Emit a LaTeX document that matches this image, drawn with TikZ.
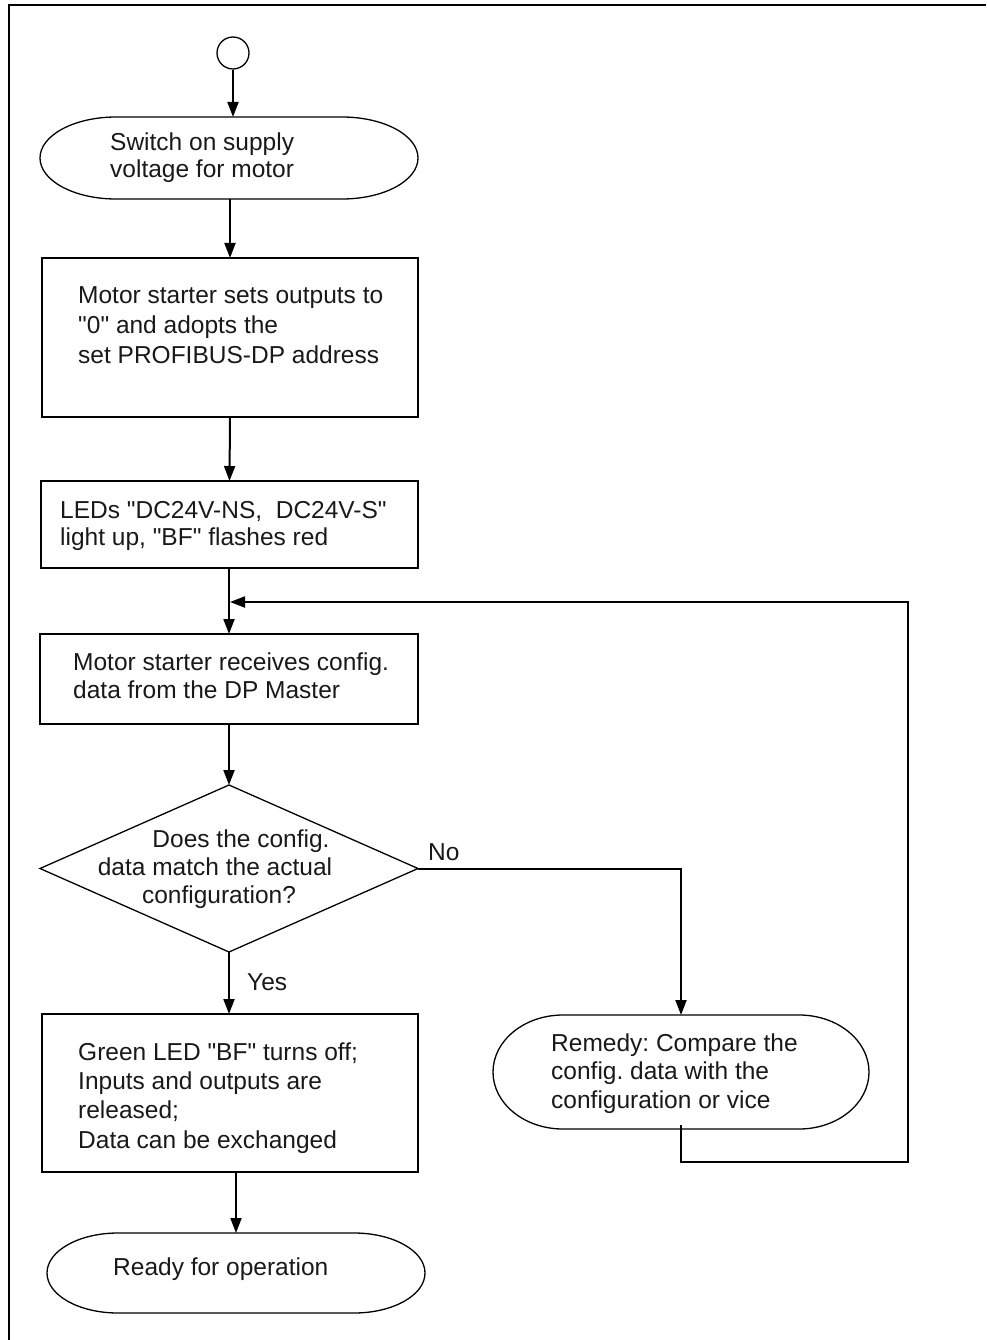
\documentclass[tikz,border=0pt]{standalone}
\usepackage{fontspec}
\setmainfont{Liberation Sans}[Ligatures=TeXOff]
\usetikzlibrary{arrows.meta,calc}
\frenchspacing
\newcommand{\dq}{\symbol{34}}
\tikzset{
  lw/.style={line width=2pt},
  thin outline/.style={line width=1.3pt},
  shapebox/.style={rectangle, inner sep=0pt, outer sep=0pt},
  procbox/.style={shapebox, draw, lw},
  arr/.style={lw, -{Triangle[length=15pt,width=11pt]}},
  txt/.style={anchor=base west, inner sep=0pt, align=left, text=black!90,
              font=\fontsize{24.5}{29}\selectfont},
}
\newcommand{\stadiumoutline}[3]{%
  \draw[thin outline] ([xshift=#2]#1.north west) -- ([xshift=-#2]#1.north east)
    arc[start angle=90,end angle=-90,x radius=#2,y radius=#3]
    -- ([xshift=#2]#1.south west)
    arc[start angle=270,end angle=90,x radius=#2,y radius=#3]
    -- cycle;}
\begin{document}
\begin{tikzpicture}[x=1pt,y=-1pt]
\useasboundingbox (0,0) rectangle (986,1340);
% frame
\draw[line width=2.4pt] (9,1340) -- (9,5) -- (986,5);

% start circle
\node[circle, draw, thin outline, minimum size=32pt, inner sep=0pt] (start) at (233,53) {};

% terminal 1
\node[shapebox, minimum width=378pt, minimum height=82pt] (t1) at (229,158) {};
\stadiumoutline{t1}{76pt}{41pt}
\node[txt, font=\fontsize{24.5}{27}\selectfont] (t1txt) at (110,178) {Switch on supply\\voltage for motor};

% box 2
\node[procbox, minimum width=376pt, minimum height=159pt] (b2) at (230,337.5) {};
\node[txt, font=\fontsize{24.5}{30}\selectfont] (b2txt) at (78,363) {Motor starter sets outputs to\\\dq0\dq{} and adopts the\\set PROFIBUS-DP address};

% box 3
\node[procbox, minimum width=377pt, minimum height=87pt] (b3) at (229.5,524.5) {};
\node[txt, font=\fontsize{24.5}{27}\selectfont] (b3txt) at (60,545) {LEDs \dq{}DC24V-NS,\ \ DC24V-S\dq\\light up, \dq{}BF\dq{} flashes red};

% box 4
\node[procbox, minimum width=378pt, minimum height=90pt] (b4) at (229,679) {};
\node[txt, font=\fontsize{24.5}{28}\selectfont] (b4txt) at (73,698) {Motor starter receives config.\\data from the DP Master};

% decision
\node[shapebox, minimum width=378pt, minimum height=167pt] (dec) at (229,868.5) {};
\draw[thin outline] (dec.north) -- (dec.east) -- (dec.south) -- (dec.west) -- cycle;
\node[txt, align=center, anchor=base, font=\fontsize{24.5}{28}\selectfont] (dectxt) at (215,903) {\hspace*{52pt}Does the config.\\data match the actual\\\hspace*{8pt}configuration?};

% box 5
\node[procbox, minimum width=376pt, minimum height=158pt] (b5) at (230,1093) {};
\node[txt, font=\fontsize{24.5}{29.3}\selectfont] (b5txt) at (78,1148) {Green LED \dq{}BF\dq{} turns off;\\Inputs and outputs are\\released;\\Data can be exchanged};

% end terminal
\node[shapebox, minimum width=378pt, minimum height=80pt] (tE) at (236,1273) {};
\stadiumoutline{tE}{71pt}{40pt}
\node[txt] (tEtxt) at (113,1275) {Ready for operation};

% remedy terminal
\node[shapebox, minimum width=376pt, minimum height=114pt] (rem) at (681,1072) {};
\stadiumoutline{rem}{70pt}{57pt}
\node[txt, font=\fontsize{24.5}{28.5}\selectfont] (remtxt) at (551,1108) {Remedy: Compare the\\config. data with the\\configuration or vice};

% connectors
\coordinate (loopcorner) at (908,1162);
\coordinate (join) at (230,602);
\draw[arr] (start.south) -- (start.south |- t1.north);
\draw[arr] (b2.north |- t1.south) -- (b2.north);
\draw[arr] (b2.south) -- (b3.north);
\draw[arr] (b4.north |- b3.south) -- (b4.north);
\draw[arr] (b4.south) -- (dec.north);
\draw[arr] (dec.east) -| (rem.north);
\draw[arr] (dec.south) -- (dec.south |- b5.north);
\draw[arr] (tE.north |- b5.south) -- (tE.north);
\draw[arr] ([yshift=4pt]rem.south) -- (rem.south |- loopcorner) -- (loopcorner) |- (join);

% branch labels
\node[txt] (nolbl) at (428,860) {No};
\node[txt] (yeslbl) at (247,990) {Yes};
\end{tikzpicture}
\end{document}
